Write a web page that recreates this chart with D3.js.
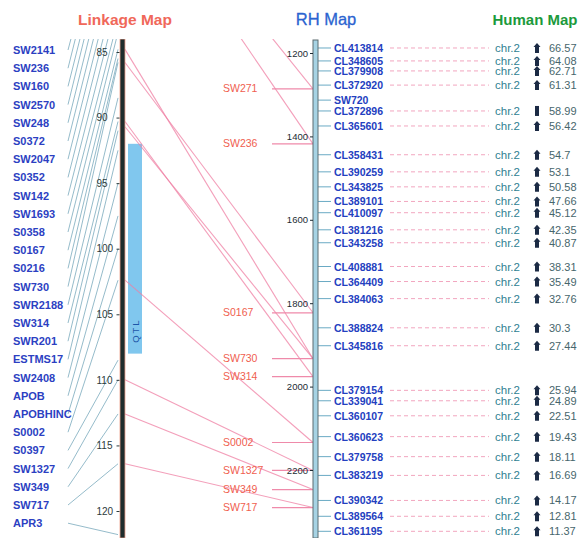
<!DOCTYPE html>
<html>
<head>
<meta charset="utf-8">
<script src="https://cdn.jsdelivr.net/npm/d3@7"></script>
<style>
  body { margin: 0; background: #fff; }
  svg { font-family: "Liberation Sans", Arial, sans-serif; }
</style>
</head>
<body>
<div id="chart"></div>
<script>
// linkage map markers (left column) and their cM positions
var linkNames = ["SW2141", "SW236", "SW160", "SW2570", "SW248", "S0372", "SW2047", "S0352", "SW142",
  "SW1693", "S0358", "S0167", "S0216", "SW730", "SWR2188", "SW314", "SWR201", "ESTMS17", "SW2408",
  "APOB", "APOBHINC", "S0002", "S0397", "SW1327", "SW349", "SW717", "APR3"];
var linkPos = [70.5, 71.0, 72.5, 73.5, 75.0, 76.5, 78.0, 79.5, 81.0,
  82.5, 83.5, 84.8, 85.5, 85.8, 88.5, 90.3, 91.0, 92.5, 95.0,
  97.5, 100.0, 102.4, 108.5, 110.0, 112.6, 116.4, 121.8];
var linkTicks = [85, 90, 95, 100, 105, 110, 115, 120];
var qtl = [92.0, 108.0];

// linkage markers placed on the RH map
var rhLinkNames = ["SW271", "SW236", "S0167", "SW730", "SW314", "S0002", "SW1327", "SW349", "SW717"];
var rhLinkPos = [1286, 1418, 1823, 1933, 1976, 2134, 2201, 2247, 2290];

// links linkage cM -> RH cR
var linkFromCM = [70.0, 71.0, 84.8, 85.8, 90.3, 90.7, 102.4, 110.0, 112.6, 116.4];
var linkToCR = [1286, 1418, 1933, 1823, 1976, 1933, 2134, 2201, 2247, 2290];

// RH map markers
var rhNames = ["CL413814", "CL348605", "CL379908", "CL372920", "SW720", "CL372896", "CL365601",
  "CL358431", "CL390259", "CL343825", "CL389101", "CL410097", "CL381216", "CL343258",
  "CL408881", "CL364409", "CL384063", "CL388824", "CL345816", "CL379154", "CL339041",
  "CL360107", "CL360623", "CL379758", "CL383219", "CL390342", "CL389564", "CL361195"];
var rhPos = [1188, 1219, 1243, 1277, 1313, 1339, 1375,
  1444, 1485, 1521, 1556, 1583, 1624, 1655,
  1712, 1748, 1789, 1859, 1902, 2009, 2034,
  2070, 2120, 2168, 2213, 2273, 2311, 2347];
var rhTicks = [1200, 1400, 1600, 1800, 2000, 2200];

// human map
var humanChr = ["chr.2", "chr.2", "chr.2", "chr.2", null, "chr.2", "chr.2",
  "chr.2", "chr.2", "chr.2", "chr.2", "chr.2", "chr.2", "chr.2",
  "chr.2", "chr.2", "chr.2", "chr.2", "chr.2", "chr.2", "chr.2",
  "chr.2", "chr.2", "chr.2", "chr.2", "chr.2", "chr.2", "chr.2"];
var humanMb = [66.57, 64.08, 62.71, 61.31, null, 58.99, 56.42,
  54.7, 53.1, 50.58, 47.66, 45.12, 42.35, 40.87,
  38.31, 35.49, 32.76, 30.3, 27.44, 25.94, 24.89,
  22.51, 19.43, 18.11, 16.69, 14.17, 12.81, 11.37];
var humanDir = ["up", "up", "up", "up", null, "bar", "up",
  "up", "up", "up", "up", "up", "up", "up",
  "up", "up", "up", "up", "up", "up", "up",
  "up", "up", "up", "up", "up", "up", "up"];

var width = 581, height = 538;

var svg = d3.select("#chart").append("svg")
    .attr("width", width)
    .attr("height", height);

var yLink = d3.scaleLinear().domain([85, 120]).range([52, 511]);
var yRH = d3.scaleLinear().domain([1200, 2200]).range([53, 470]);

var linkX = 120, rhX = 313;

svg.append("clipPath").attr("id", "mapclip")
  .append("rect").attr("x", 0).attr("y", 39).attr("width", width).attr("height", height - 39);

// titles
svg.append("text").attr("x", 125).attr("y", 25).attr("text-anchor", "middle")
    .style("font-size", "15.5px").style("font-weight", "bold").attr("fill", "#f0685a")
    .text("Linkage Map");
svg.append("text").attr("x", 326).attr("y", 25).attr("text-anchor", "middle")
    .style("font-size", "16.5px").attr("fill", "#2b63d0").attr("stroke", "#2b63d0").attr("stroke-width", 0.3)
    .text("RH Map");
svg.append("text").attr("x", 535).attr("y", 25).attr("text-anchor", "middle")
    .style("font-size", "15px").style("font-weight", "bold").attr("fill", "#1c9a3c")
    .text("Human Map");

var maps = svg.append("g").attr("clip-path", "url(#mapclip)");

// left connectors
maps.append("g").selectAll("line")
    .data(linkNames)
    .enter()
    .append("line")
    .attr("x1", 68)
    .attr("y1", function(d, i) { return 50 + i * 18.2; })
    .attr("x2", linkX - 2)
    .attr("y2", function(d, i) { return yLink(linkPos[i]); })
    .attr("stroke", "#7aa9bd")
    .attr("stroke-width", 0.8);

// QTL box
maps.append("rect")
    .attr("x", 128).attr("width", 14)
    .attr("y", yLink(qtl[0]))
    .attr("height", yLink(qtl[1]) - yLink(qtl[0]))
    .attr("fill", "#80c7ee");
svg.append("text")
    .attr("transform", "translate(138.5," + (yLink(qtl[1]) - 23) + ") rotate(-90)")
    .attr("text-anchor", "middle")
    .style("font-size", "9.5px").style("letter-spacing", "2px")
    .attr("fill", "#1d56a8")
    .text("QTL");

// links linkage -> RH
maps.append("g").selectAll("line")
    .data(linkFromCM)
    .enter()
    .append("line")
    .attr("x1", linkX + 5)
    .attr("y1", function(d) { return yLink(d); })
    .attr("x2", rhX)
    .attr("y2", function(d, i) { return yRH(linkToCR[i]); })
    .attr("stroke", "#ef7fa3")
    .attr("stroke-opacity", 0.75)
    .attr("stroke-width", 1.1);

// linkage chromosome bar
maps.append("rect")
    .attr("x", linkX).attr("y", 39)
    .attr("width", 5).attr("height", height - 39)
    .attr("fill", "#1f2d2d")
    .attr("stroke", "#eea08c").attr("stroke-width", 0.8);

var linkAxis = d3.axisLeft(yLink).tickValues(linkTicks).tickSize(3).tickPadding(3);
var gl = svg.append("g").attr("transform", "translate(" + (linkX - 0.5) + ",0)").call(linkAxis);
gl.select(".domain").remove();
gl.selectAll("text")
    .attr("x", -23).attr("text-anchor", "start")
    .style("font-size", "10px").attr("fill", "#2d3b3b").style("font-family", "Liberation Sans, Arial");
gl.selectAll("line").attr("stroke", "#2d3b3b");

// left labels
svg.append("g").selectAll("text")
    .data(linkNames)
    .enter()
    .append("text")
    .attr("x", 13)
    .attr("y", function(d, i) { return 50 + i * 18.2 + 4; })
    .style("font-size", "11px").style("font-weight", "bold")
    .attr("fill", "#2c3fc2")
    .text(function(d) { return d; });

// red labels of linkage markers on RH map
var rl = maps.append("g");
rl.selectAll("line")
    .data(rhLinkNames)
    .enter()
    .append("line")
    .attr("x1", 272).attr("x2", rhX)
    .attr("y1", function(d, i) { return yRH(rhLinkPos[i]); })
    .attr("y2", function(d, i) { return yRH(rhLinkPos[i]); })
    .attr("stroke", "#ef8aaa").attr("stroke-width", 1.2);
rl.selectAll("text")
    .data(rhLinkNames)
    .enter()
    .append("text")
    .attr("x", 223)
    .attr("y", function(d, i) { return yRH(rhLinkPos[i]) + 3.5; })
    .style("font-size", "10.5px")
    .attr("fill", "#f0604f")
    .text(function(d) { return d; });

// RH marker ticks and labels
var rh = maps.append("g");
rh.selectAll("line")
    .data(rhNames)
    .enter()
    .append("line")
    .attr("x1", rhX + 5).attr("x2", 331)
    .attr("y1", function(d, i) { return yRH(rhPos[i]); })
    .attr("y2", function(d, i) { return yRH(rhPos[i]); })
    .attr("stroke", "#6aaac4").attr("stroke-width", 1);
rh.selectAll("text")
    .data(rhNames)
    .enter()
    .append("text")
    .attr("x", 334)
    .attr("y", function(d, i) { return yRH(rhPos[i]) + 4; })
    .style("font-size", "10.5px").style("font-weight", "bold")
    .attr("fill", "#2340c0")
    .text(function(d) { return d; });

// RH bar
maps.append("rect")
    .attr("x", rhX).attr("y", 40)
    .attr("width", 5).attr("height", height - 40)
    .attr("fill", "#a6d3e4")
    .attr("stroke", "#5d6d70").attr("stroke-width", 1);

var rhAxis = d3.axisLeft(yRH).tickValues(rhTicks).tickFormat(d3.format("d")).tickSize(3).tickPadding(2);
var gr = svg.append("g").attr("transform", "translate(" + rhX + ",0)").call(rhAxis);
gr.select(".domain").remove();
gr.selectAll("text").style("font-size", "9.5px").attr("fill", "#1d2b33").style("font-family", "Liberation Sans, Arial");
gr.selectAll("line").attr("stroke", "#1d2b33");

// human map
var hm = maps.append("g");
var hIdx = d3.range(rhNames.length).filter(function(i) { return humanChr[i] !== null; });

hm.selectAll("line.dash")
    .data(hIdx)
    .enter()
    .append("line")
    .attr("class", "dash")
    .attr("x1", 390).attr("x2", 489)
    .attr("y1", function(i) { return yRH(rhPos[i]); })
    .attr("y2", function(i) { return yRH(rhPos[i]); })
    .attr("stroke", "#f2a6bf").attr("stroke-width", 1)
    .attr("stroke-dasharray", "4,3");

hm.selectAll("text.chr")
    .data(hIdx)
    .enter()
    .append("text")
    .attr("class", "chr")
    .attr("x", 495)
    .attr("y", function(i) { return yRH(rhPos[i]) + 4; })
    .style("font-size", "11.5px")
    .attr("fill", "#2f7f92")
    .text(function(i) { return humanChr[i]; });

hm.selectAll("path.dir")
    .data(hIdx)
    .enter()
    .append("path")
    .attr("class", "dir")
    .attr("transform", function(i) { return "translate(537," + yRH(rhPos[i]) + ")"; })
    .attr("d", function(i) {
      if (humanDir[i] === "bar") return "M-2,-5L2,-5L2,5L-2,5Z";
      return "M0,-5L3.5,-1L2,-1L2,5L-2,5L-2,-1L-3.5,-1Z";
    })
    .attr("fill", "#1b2a44");

hm.selectAll("text.mb")
    .data(hIdx)
    .enter()
    .append("text")
    .attr("class", "mb")
    .attr("x", 549)
    .attr("y", function(i) { return yRH(rhPos[i]) + 4; })
    .style("font-size", "11px")
    .attr("fill", "#47666c")
    .text(function(i) { return humanMb[i]; });
</script>
</body>
</html>
